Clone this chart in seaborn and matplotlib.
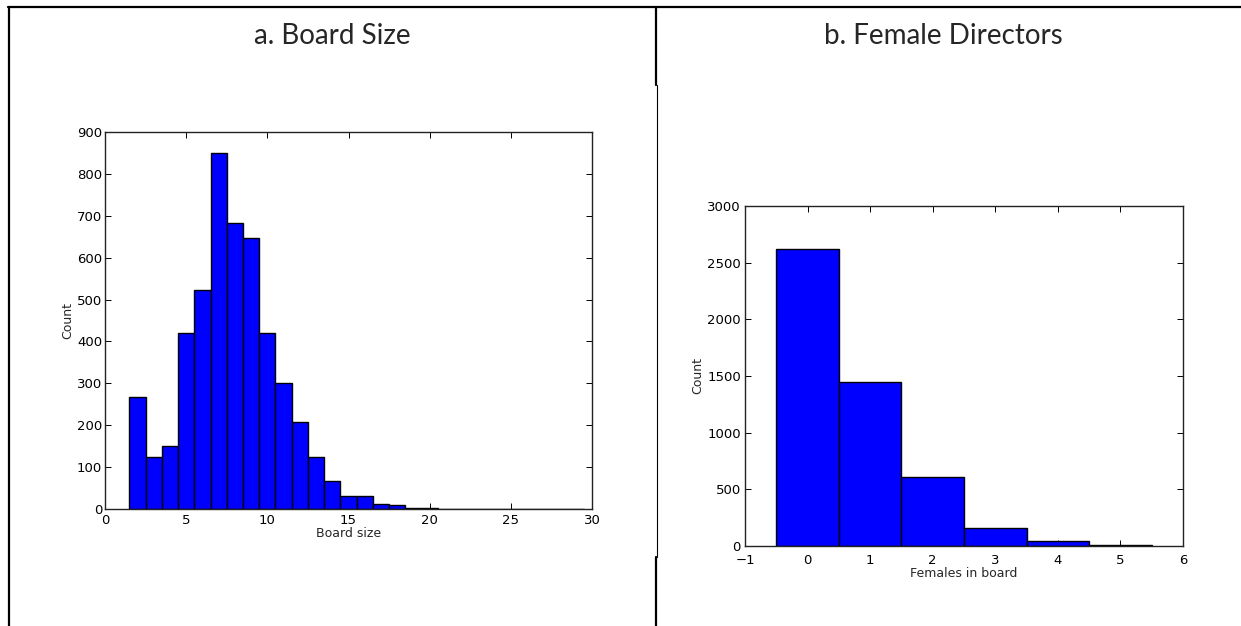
import numpy as np
import pandas as pd
import matplotlib
matplotlib.use("Agg")
import matplotlib.pyplot as plt
from matplotlib.lines import Line2D
import seaborn as sns

# ---- data ----
board_size = list(range(2, 30))
board_count = [267, 125, 150, 420, 523, 850, 682, 648, 420, 300, 208, 125, 68,
               32, 30, 13, 9, 3, 3, 1, 1, 0, 1, 0, 0, 0, 0, 1]
females = [0, 1, 2, 3, 4, 5]
female_count = [2620, 1450, 605, 155, 40, 8]

titles = ["a. Board Size", "b. Female Directors"]

sns.set_style("ticks")
plt.rcParams['font.family'] = ['DejaVu Sans']

W, H = 1241, 626
fig = plt.figure(figsize=(W / 100, H / 100), dpi=100)

def fx(px):
    return px / W

def fy(py):
    return 1 - py / H

ax1 = fig.add_axes([fx(105), fy(509), fx(592) - fx(105), fy(132) - fy(509)])
ax2 = fig.add_axes([fx(745), fy(546), fx(1183) - fx(745), fy(206) - fy(546)])

df1 = pd.DataFrame({"size": board_size, "count": board_count})
df2 = pd.DataFrame({"fem": females, "count": female_count})

sns.histplot(data=df1, x="size", weights="count", discrete=True, ax=ax1,
             color="#0000ff", edgecolor="black", linewidth=1.0, alpha=1)
sns.histplot(data=df2, x="fem", weights="count", discrete=True, ax=ax2,
             color="#0000ff", edgecolor="black", linewidth=1.0, alpha=1)

ax1.set_xlim(0, 30)
ax1.set_ylim(0, 900)
ax1.set_xticks(np.arange(0, 31, 5))
ax1.set_yticks(np.arange(0, 901, 100))
ax1.set_xlabel("Board size", fontsize=9, labelpad=0)
ax1.set_ylabel("Count", fontsize=9, labelpad=2)

ax2.set_xlim(-1, 6)
ax2.set_ylim(0, 3000)
ax2.set_xticks(np.arange(-1, 7, 1))
ax2.set_yticks(np.arange(0, 3001, 500))
ax2.set_xlabel("Females in board", fontsize=9, labelpad=0)
ax2.set_ylabel("Count", fontsize=9, labelpad=2)

for ax in (ax1, ax2):
    ax.tick_params(direction="in", top=True, right=True, length=4, width=0.7,
                   labelsize=9.5, colors="black")
    ax.tick_params(axis="x", pad=3.5)
    ax.tick_params(axis="y", pad=2)
    for s in ax.spines.values():
        s.set_visible(True)
        s.set_linewidth(1.0)
        s.set_color("#222222")
ax2.tick_params(axis="x", pad=5.5)
ax2.tick_params(axis="y", pad=3)

# titles
fig.text(fx(332), fy(36), titles[0], ha="center", va="center",
         fontsize=20, family=["Lato", "DejaVu Sans"])
fig.text(fx(943), fy(36), titles[1], ha="center", va="center",
         fontsize=20, family=["Lato", "DejaVu Sans"])

# table borders
lw_thick = 1.6
fig.add_artist(Line2D([fx(7.5), 1.0], [fy(6.5), fy(6.5)], color="black", lw=lw_thick))
fig.add_artist(Line2D([fx(8.5), fx(8.5)], [fy(6.5), 0.0], color="black", lw=lw_thick))
fig.add_artist(Line2D([fx(656), fx(656)], [fy(6.5), fy(85)], color="black", lw=lw_thick))
fig.add_artist(Line2D([fx(656.5), fx(656.5)], [fy(85), fy(557)], color="black", lw=0.8))
fig.add_artist(Line2D([fx(656), fx(656)], [fy(557), 0.0], color="black", lw=lw_thick))

fig.savefig("out.png", dpi=100)
